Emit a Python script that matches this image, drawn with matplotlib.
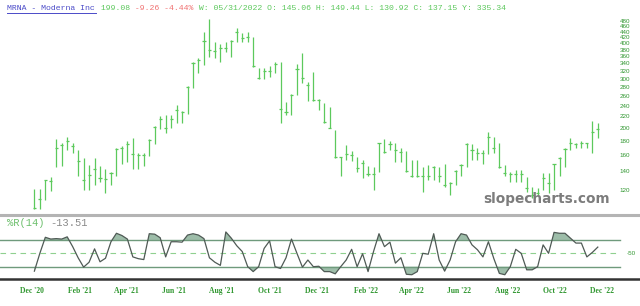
import matplotlib

matplotlib.use("Agg")
import matplotlib.pyplot as plt
import matplotlib.dates as mdates
from matplotlib.lines import Line2D
import numpy as np
import pandas as pd

# weekly bars, Dec 2020 - Dec 2022
first_week = "2020-12-04"
high = [122, 122, 131, 134, 183, 178, 186, 178, 168, 157, 148, 157, 147, 144, 140, 170,
        173, 181, 185, 163, 163, 183, 204, 222, 223, 223, 242, 231, 283, 344, 356, 441,
        490, 407, 400, 407, 414, 455, 437, 441, 424, 328, 328, 335, 346, 344, 248, 266,
        340, 370, 292, 317, 254, 246, 238, 197, 158, 174, 166, 158, 154, 147, 146, 178,
        183, 181, 178, 170, 166, 154, 154, 146, 148, 147, 146, 150, 129, 142, 150, 177,
        176, 170, 168, 194, 186, 178, 148, 140, 142, 142, 134, 124, 123, 139, 139, 150,
        158, 170, 185, 178, 181, 178, 213, 209]
low = [103, 103, 111, 120, 146, 147, 167, 163, 136, 121, 121, 126, 129, 118, 126, 136,
       150, 152, 144, 144, 147, 160, 176, 199, 193, 200, 210, 210, 226, 279, 314, 336,
       360, 356, 344, 375, 360, 407, 407, 407, 330, 300, 300, 306, 316, 209, 223, 223,
       263, 290, 250, 250, 232, 209, 200, 157, 136, 155, 153, 140, 133, 135, 121, 140,
       164, 168, 152, 152, 140, 134, 134, 119, 131, 131, 129, 124, 116, 126, 135, 146,
       155, 155, 150, 162, 164, 145, 136, 129, 129, 129, 119, 113, 116, 121, 118, 121,
       135, 146, 168, 171, 171, 170, 164, 185]
close = [104, 112, 131, 130, 170, 175, 180, 173, 153, 131, 137, 143, 133, 132, 139, 169,
         171, 176, 162, 161, 161, 182, 203, 217, 200, 217, 232, 228, 282, 343, 350, 410,
         380, 377, 388, 388, 410, 440, 420, 425, 335, 302, 320, 320, 340, 234, 228, 263,
         327, 303, 285, 253, 252, 211, 201, 158, 158, 162, 161, 145, 151, 138, 138, 177,
         165, 176, 168, 165, 141, 135, 135, 136, 136, 146, 136, 126, 128, 141, 148, 176,
         168, 164, 164, 186, 170, 146, 139, 138, 138, 138, 123, 116, 118, 133, 128, 149,
         157, 169, 178, 176, 177, 177, 194, 199]
# Williams %R(14) as drawn
pct_r = [-90, -50, -14, -18, -17, -18, -13, -35, -60, -81, -70, -40, -69, -61, -24, -5,
         -10, -18, -58, -62, -64, -6, -7, -15, -58, -24, -24, -25, -9, -6, -9, -17,
         -60, -70, -77, -2, -16, -33, -46, -80, -91, -80, -39, -22, -80, -84, -60, -18,
         -50, -81, -65, -80, -79, -91, -91, -96, -80, -65, -41, -80, -51, -91, -46, -6,
         -35, -25, -72, -60, -97, -98, -91, -50, -52, -6, -65, -90, -65, -24, -6, -9,
         -31, -42, -58, -24, -62, -95, -98, -80, -41, -50, -87, -87, -80, -31, -50, -3,
         -5, -5, -16, -27, -27, -58, -48, -36]
price_ticks = list(range(120, 481, 20))

title_parts = [("MRNA - Moderna Inc", "#4a4ac8"), (" 199.08", "#5cc85c"),
               (" -9.26 -4.44%", "#f07070"),
               (" W: 05/31/2022 O: 145.06 H: 149.44 L: 130.92 C: 137.15 Y: 335.34", "#5cc85c")]

W, H = 640, 306
BAR = "#5cc95c"
TXT = "#2f962f"


def fy(px):
    return 1 - px / H


def main() -> None:
    dates = pd.date_range(first_week, periods=len(close), freq="7D")
    x = mdates.date2num(dates)
    xlim = (mdates.date2num(pd.Timestamp("2020-10-21")),
            mdates.date2num(pd.Timestamp("2023-01-18")))
    tick = 2.0  # half width of close tick, days

    fig = plt.figure(figsize=(W / 100, H / 100), dpi=100)

    # price panel
    ax = fig.add_axes([0, fy(213), 1, fy(16) - fy(213)])
    ax.set_yscale("log")
    ax.set_ylim(100, 503)
    ax.set_xlim(*xlim)
    ax.vlines(x, low, high, color=BAR, lw=0.9)
    ax.hlines(close, x - tick, x + tick, color=BAR, lw=0.9)
    ax.set_axis_off()
    tr = ax.get_yaxis_transform()
    for v in price_ticks:
        ax.text(625 / W, v, str(v), transform=tr, ha="center", va="center",
                fontsize=4.5, color=TXT, family="Liberation Sans")
    fig.text(547 / W, fy(199), "slopecharts.com", ha="center", va="center",
             fontsize=9.8, fontweight="bold", color="#7c7c7c", family="DejaVu Sans")

    # %R panel
    ax2 = fig.add_axes([0, fy(279), 1, fy(215) - fy(279)])
    ax2.set_xlim(*xlim)
    ax2.set_ylim(-107.6, 36)
    r = np.array(pct_r, dtype=float)
    ax2.fill_between(x, r, -20, where=r > -20, interpolate=True, color="#9dbda9", lw=0)
    ax2.fill_between(x, r, -80, where=r < -80, interpolate=True, color="#9dbda9", lw=0)
    for lvl in (-20, -80):
        ax2.axhline(lvl, xmax=620 / W, color="#6f9a7c", lw=1.0)
    ax2.axhline(-50, xmax=620 / W, color="#8fd08f", lw=0.8, ls=(0, (5, 4)))
    ax2.plot(x, r, color="#4f5a55", lw=0.9)
    ax2.text(631 / W, -50, "-50", transform=ax2.get_yaxis_transform(),
             ha="center", va="center", fontsize=4.5, color=TXT, family="Liberation Sans")
    ax2.text(7 / W, 0.88, "%R(14)", transform=ax2.transAxes, ha="left", va="center",
             fontsize=7.5, color="#6cbf6c", family="Liberation Mono")
    ax2.text(7 / W + 7 * 6.25 / W, 0.88, "-13.51", transform=ax2.transAxes, ha="left",
             va="center", fontsize=7.5, color="#8a8a8a", family="Liberation Mono")

    for side in ("left", "right"):
        ax2.spines[side].set_visible(False)
    ax2.spines["top"].set_color("#b4b4b4")
    ax2.spines["top"].set_linewidth(2.2)
    ax2.spines["bottom"].set_color("#333333")
    ax2.spines["bottom"].set_linewidth(1.8)
    ax2.set_yticks([])
    ax2.xaxis.set_major_locator(mdates.MonthLocator(bymonth=[2, 4, 6, 8, 10, 12]))
    ax2.xaxis.set_major_formatter(mdates.DateFormatter("%b '%y"))
    ax2.tick_params(axis="x", length=0, pad=6, labelsize=5.5, labelcolor=TXT)
    for lab in ax2.get_xticklabels():
        lab.set_family("Liberation Serif")
        lab.set_fontweight("bold")

    # header line (monospace, so each part starts n chars further on)
    n = 0
    cw = 4.93
    for s, c in title_parts:
        fig.text((7 + n * cw) / W, fy(8), s, ha="left", va="center", fontsize=5.9,
                 color=c, family="Liberation Mono")
        n += len(s)
    fig.add_artist(Line2D([7 / W, (7 + 18 * cw) / W], [fy(12.5)] * 2,
                          color="#4a4ac8", lw=0.7))

    fig.savefig("out.png", dpi=100)
    plt.close(fig)


if __name__ == "__main__":
    main()
